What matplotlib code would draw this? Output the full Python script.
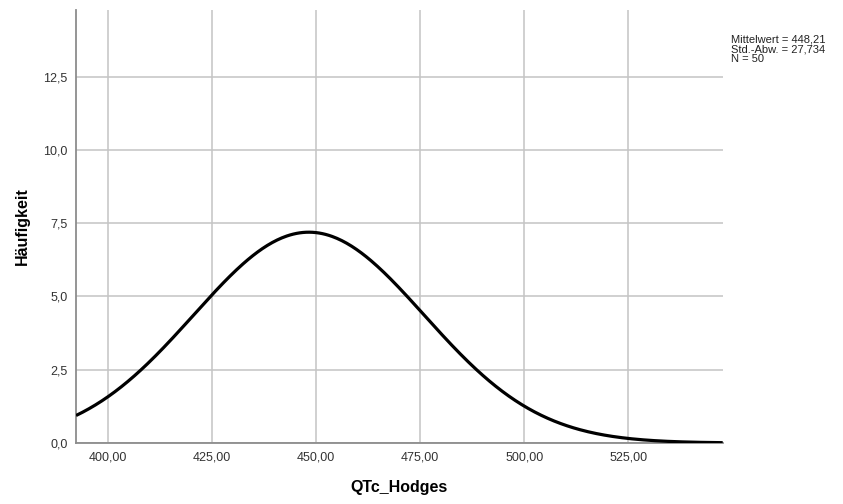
import numpy as np
import matplotlib.pyplot as plt
import matplotlib.ticker

# summary statistics of QTc_Hodges
mean = 448.21
std = 27.734
n = 50
bin_width = 10.0

x_ticks = [400, 425, 450, 475, 500, 525]
y_ticks = [0.0, 2.5, 5.0, 7.5, 10.0, 12.5]
x_range = (392.24, 547.7)
y_range = (0, 14.77)

plt.rcParams['font.family'] = ['Liberation Sans', 'DejaVu Sans']

fig = plt.figure(figsize=(8.43, 5.04), dpi=100)
ax = fig.add_axes([0.0902, 0.121, 0.7671, 0.859])

# normal curve scaled to histogram counts
xs = np.linspace(x_range[0], x_range[1], 400)
ys = n * bin_width / (std * np.sqrt(2 * np.pi)) * np.exp(-0.5 * ((xs - mean) / std) ** 2)
ax.plot(xs, ys, color='black', linewidth=2.3, zorder=3, solid_capstyle='butt')

ax.set_xlim(*x_range)
ax.set_ylim(*y_range)
ax.set_xticks(x_ticks)
ax.set_yticks(y_ticks)
ax.xaxis.set_major_formatter(matplotlib.ticker.FuncFormatter(lambda v, p: f"{v:.2f}".replace('.', ',')))
ax.yaxis.set_major_formatter(matplotlib.ticker.FuncFormatter(lambda v, p: f"{v:.1f}".replace('.', ',')))
ax.tick_params(length=0, labelsize=9, colors='#333333', pad=6)

ax.grid(True, color='#c4c4c4', linewidth=1.1)
ax.set_axisbelow(True)
for side in ['top', 'right']:
    ax.spines[side].set_visible(False)
for side in ['left', 'bottom']:
    ax.spines[side].set_color('#8c8c8c')
    ax.spines[side].set_linewidth(1.3)

ax.set_xlabel('QTc_Hodges', fontsize=11.5, fontweight='bold', labelpad=12)
ax.set_ylabel('Häufigkeit', fontsize=11.5, fontweight='bold', labelpad=10)

stats = [f"Mittelwert = {mean:.2f}".replace('.', ','),
         f"Std.-Abw. = {std:.3f}".replace('3.', '3,').replace('27.', '27,'),
         f"N = {n}"]
fig.text(0.867, 0.931, "\n".join(stats),
         fontsize=8, va='top', ha='left', linespacing=0.95, color='#222222')

fig.savefig('out.png', dpi=100)
